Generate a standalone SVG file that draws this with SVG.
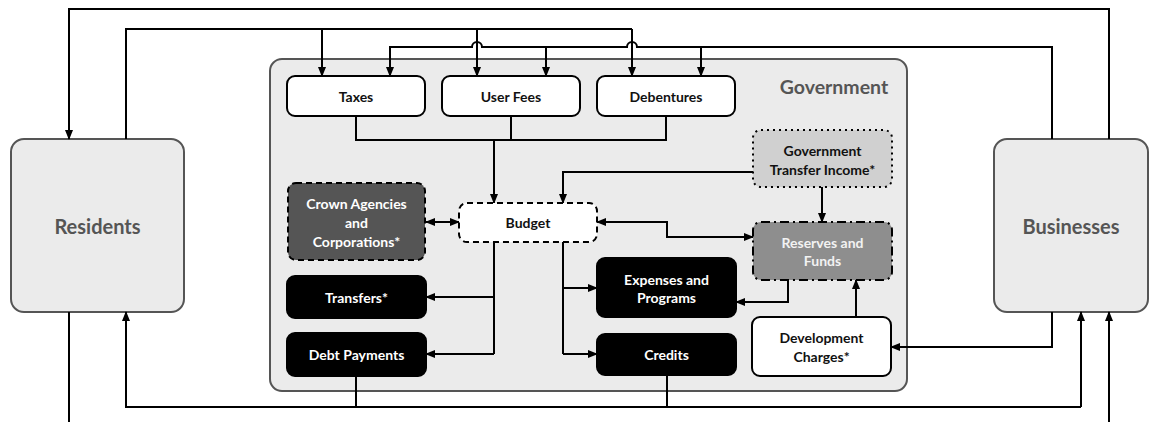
<svg xmlns="http://www.w3.org/2000/svg" width="1158" height="422" viewBox="0 0 1158 422">
<defs>
<marker id="ah" markerUnits="userSpaceOnUse" markerWidth="10" markerHeight="10" refX="9" refY="5" orient="auto-start-reverse" viewBox="0 0 10 10">
<path d="M0,1 L10,5 L0,9 z" fill="#000"/>
</marker>
</defs>
<style>
text{font-family:Lato,"Open Sans","Liberation Sans",sans-serif;font-weight:bold;text-anchor:middle;dominant-baseline:central}
.t{font-size:14px}
.big{font-size:20px;fill:#555}
.w{fill:#fff}
.k{fill:#111}
.ln{fill:none;stroke:#000;stroke-width:2}
.ar{fill:none;stroke:#000;stroke-width:2;marker-end:url(#ah)}
.box{stroke:#000;stroke-width:2}
</style>
<g id="government">
<rect x="270" y="59" width="637" height="332" rx="12" fill="#ebebeb" stroke="#555" stroke-width="2"/>
<text class="big" x="834" y="86" style="font-size:19.5px">Government</text>
</g>
<g id="residents">
<rect x="11" y="139" width="173" height="173" rx="13" fill="#ebebeb" stroke="#555" stroke-width="2"/>
<text class="big" x="97.5" y="226">Residents</text>
</g>
<g id="businesses">
<rect x="994" y="139" width="154" height="173" rx="13" fill="#ebebeb" stroke="#555" stroke-width="2"/>
<text class="big" x="1071" y="226">Businesses</text>
</g>
<g id="connectors">
<path class="ar" d="M1109,139 V9 H69 V139"/>
<path class="ln" d="M126,139 V29 H632"/>
<path class="ar" d="M322,29 V76"/>
<path class="ar" d="M477,29 V76"/>
<path class="ar" d="M632,29 V76"/>
<path class="ar" d="M1052,139 V47 H637 A5,5 0 0 0 627,47 H482 A5,5 0 0 0 472,47 H390 V76"/>
<path class="ar" d="M546,47 V76"/>
<path class="ar" d="M701,47 V76"/>
<path class="ln" d="M356,116 V140 H666 V116"/>
<path class="ln" d="M511,116 V140"/>
<path class="ar" d="M494,140 V203"/>
<path class="ar" d="M753,172 H563 V203"/>
<path class="ar" d="M822,187 V222"/>
<path class="ar" style="marker-start:url(#ah)" d="M426,222 H459"/>
<path class="ar" style="marker-start:url(#ah)" d="M597,222 H667 V237 H753"/>
<path class="ln" d="M494,242 V354"/>
<path class="ar" d="M494,297 H426"/>
<path class="ar" d="M494,354 H426"/>
<path class="ln" d="M563,242 V354"/>
<path class="ar" d="M563,288 H597"/>
<path class="ar" d="M563,354 H597"/>
<path class="ar" d="M788,280 V302 H736"/>
<path class="ar" d="M856,317 V280"/>
<path class="ar" d="M1052,312 V347 H891"/>
<path class="ln" d="M356,376 V407"/>
<path class="ln" d="M667,375 V407"/>
<path class="ar" d="M1081,407 H126 V312"/>
<path class="ar" d="M1081,407 V312"/>
<path class="ar" d="M1109,422 V312"/>
<path class="ln" d="M69,312 V422"/>
</g>
<g id="taxes">
<rect class="box" x="287" y="76" width="138" height="40" rx="8" fill="#fff"/>
<text class="t k" x="356" y="96">Taxes</text>
</g>
<g id="user-fees">
<rect class="box" x="442" y="76" width="138" height="40" rx="8" fill="#fff"/>
<text class="t k" x="511" y="96">User Fees</text>
</g>
<g id="debentures">
<rect class="box" x="597" y="76" width="138" height="40" rx="8" fill="#fff"/>
<text class="t k" x="666" y="96">Debentures</text>
</g>
<g id="crown">
<rect class="box" x="288" y="183" width="137" height="77" rx="8" fill="#555" stroke-dasharray="6 4"/>
<text class="t w" x="356.5" y="203">Crown Agencies</text>
<text class="t w" x="356.5" y="222">and</text>
<text class="t w" x="356.5" y="241">Corporations*</text>
</g>
<g id="budget">
<rect class="box" x="459" y="203" width="138" height="39" rx="8" fill="#fff" stroke-dasharray="6 4"/>
<text class="t k" x="528" y="222">Budget</text>
</g>
<g id="transfer-income">
<rect class="box" x="753" y="130" width="139" height="57" rx="8" fill="#d0d0d0" stroke-dasharray="2 4"/>
<text class="t k" x="822.5" y="150">Government</text>
<text class="t k" x="822.5" y="169">Transfer Income*</text>
</g>
<g id="reserves">
<rect class="box" x="753" y="222" width="139" height="58" rx="8" fill="#8e8e8e" stroke-dasharray="9 4 2 4"/>
<text class="t" x="822.5" y="242" fill="#f2f2f2">Reserves and</text>
<text class="t" x="822.5" y="260" fill="#f2f2f2">Funds</text>
</g>
<g id="transfers">
<rect class="box" x="287" y="276" width="139" height="42" rx="8" fill="#000"/>
<text class="t w" x="356.5" y="297">Transfers*</text>
</g>
<g id="debt-payments">
<rect class="box" x="287" y="333" width="139" height="43" rx="8" fill="#000"/>
<text class="t w" x="356.5" y="354">Debt Payments</text>
</g>
<g id="expenses">
<rect class="box" x="597" y="258" width="139" height="59" rx="8" fill="#000"/>
<text class="t w" x="666.5" y="279">Expenses and</text>
<text class="t w" x="666.5" y="297">Programs</text>
</g>
<g id="credits">
<rect class="box" x="597" y="334" width="139" height="41" rx="8" fill="#000"/>
<text class="t w" x="666.5" y="354">Credits</text>
</g>
<g id="development-charges">
<rect class="box" x="752" y="317" width="139" height="59" rx="8" fill="#fff"/>
<text class="t k" x="821.5" y="337">Development</text>
<text class="t k" x="821.5" y="356">Charges*</text>
</g>
</svg>
